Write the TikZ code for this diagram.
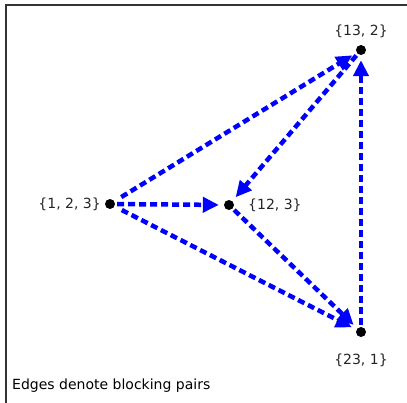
\documentclass[tikz,border=0pt]{standalone}
\usepackage{fontspec}
\setmainfont{DejaVu Sans}
\usetikzlibrary{arrows.meta}
\begin{document}
\begin{tikzpicture}[x=1pt, y=-1pt,
    setDot/.style={circle, fill=black, inner sep=0pt, minimum size=10pt},
    setLabel/.style={font=\fontsize{14}{16}\selectfont, text=black!85, inner sep=0pt},
    blockEdge/.style={draw=blue, line width=4.5pt, dash pattern=on 7pt off 4pt,
        -{Triangle[length=16pt,width=15pt]}, shorten <=2pt, shorten >=5pt},
]
\useasboundingbox (0,0) rectangle (407,402);
% frame
\draw[line width=1.5pt, black!80] (6,5) rectangle (430,430);

% coalition structures
\node[setDot] (sAll) at (110,204) {};
\node[setDot] (s12) at (229,205) {};
\node[setDot] (s13) at (361,50) {};
\node[setDot] (s23) at (361,332) {};

\node[setLabel, anchor=east] (lAll) at (101,204) {\{1, 2, 3\}};
\node[setLabel, anchor=west] (l12) at (248,205) {\{12, 3\}};
\node[setLabel] (l13) at (361,31) {\{13, 2\}};
\node[setLabel] (l23) at (361,360) {\{23, 1\}};

% blocking pairs
\draw[blockEdge, shorten <=8pt] (sAll) -- (s13);
\draw[blockEdge] (sAll) -- (s12);
\draw[blockEdge, shorten <=8pt] (sAll) -- (s23);
\draw[blockEdge] (s13) -- (s12);
\draw[blockEdge] (s12) -- (s23);
\draw[blockEdge] (s23) -- (s13);

\node[setLabel, text=black, anchor=west] (note) at (12,386) {Edges denote blocking pairs};
\end{tikzpicture}
\end{document}
